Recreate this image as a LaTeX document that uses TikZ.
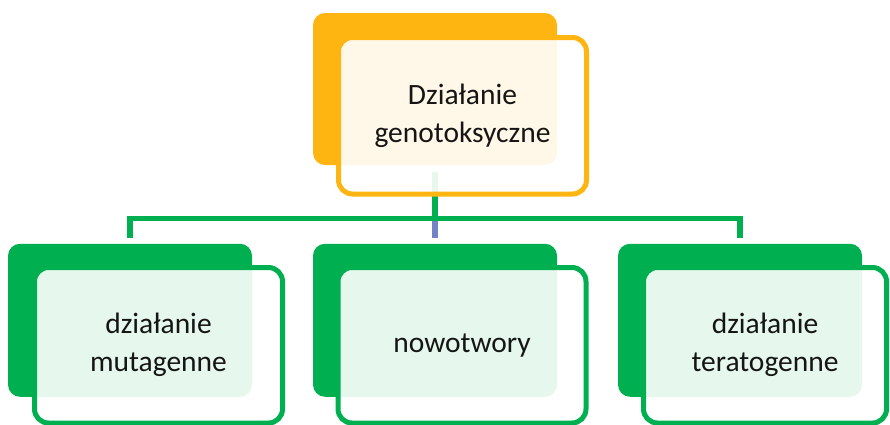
\documentclass[tikz,border=0pt]{standalone}
\usepackage{fontspec}
\setmainfont{Carlito}
\definecolor{orng}{HTML}{FFB511}
\definecolor{grn}{HTML}{00B050}
\definecolor{blu}{HTML}{7284C6}
\definecolor{ink}{HTML}{151515}
\begin{document}
\begin{tikzpicture}[x=1pt,y=-1pt,
  solidbox/.style={rectangle, rounded corners=12pt, inner sep=0pt,
    minimum width=244pt, minimum height=153pt, fill=#1},
  framebox/.style={rectangle, rounded corners=14pt, inner sep=0pt,
    draw=#1, line width=5pt, fill=white, fill opacity=0.9, text opacity=1,
    minimum width=248pt, minimum height=155.5pt, align=center,
    text=ink, font=\fontsize{29.5}{38}\selectfont},
  conn/.style={line width=5.5pt}]
\useasboundingbox (0,0) rectangle (890,424);
% back solid blocks
\node[solidbox=orng, minimum height=152pt] (ts) at (435,89) {};
\node[solidbox=grn] (s1) at (130,320.25) {};
\node[solidbox=grn] (s2) at (435,320.25) {};
\node[solidbox=grn] (s3) at (740,320.25) {};
% connectors
\coordinate (bus) at (0,218.5);
\path (ts.south) ++(0,7) coordinate (tstart);
\path (s1.north) ++(0,-5.5) coordinate (e1);
\path (s2.north) ++(0,-5.5) coordinate (e2);
\path (s3.north) ++(0,-5.5) coordinate (e3);
\draw[conn, blu] (tstart |- bus) -- (e2);
\draw[conn, grn] (tstart) -- (tstart |- bus);
\draw[conn, grn] (e1) -- (e1 |- bus) -- (e3 |- bus) -- (e3);
% front frames with text
\node[framebox=orng, minimum height=156.5pt] (top) at (462.5,115.75) {Działanie\\genotoksyczne};
\node[framebox=grn] (b1) at (158.5,345.25) {działanie\\mutagenne};
\node[framebox=grn] (b2) at (462,345.25) {nowotwory};
\node[framebox=grn, minimum width=243pt] (b3) at (765,345.25) {działanie\\teratogenne};
\end{tikzpicture}
\end{document}
